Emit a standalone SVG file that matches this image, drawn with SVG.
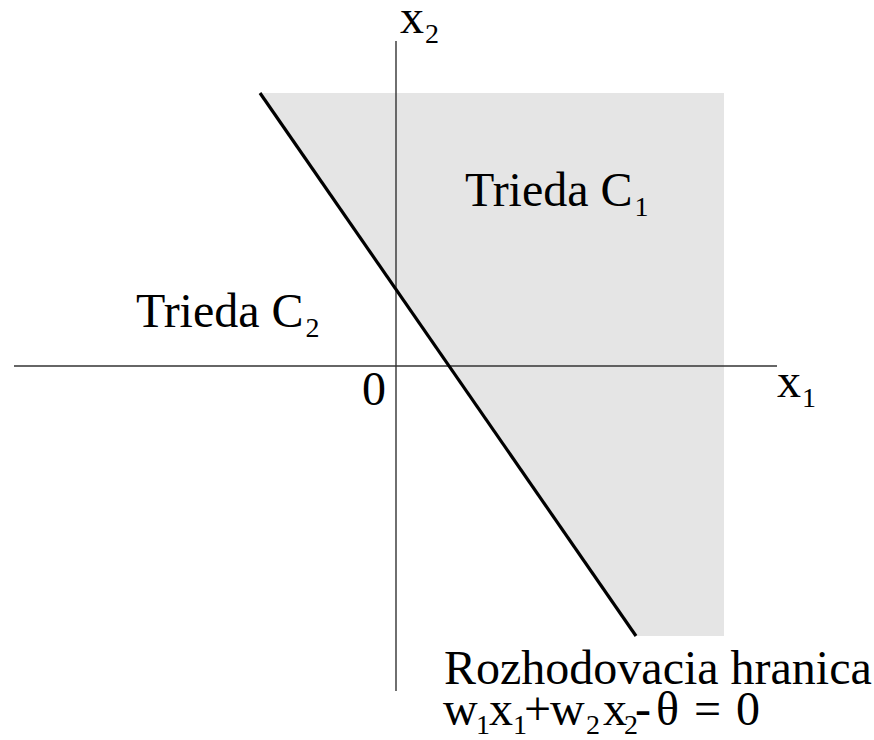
<svg xmlns="http://www.w3.org/2000/svg" width="874" height="740" viewBox="0 0 874 740">
<style>
.t{font-family:"Liberation Serif","Times New Roman",serif;font-size:48px;fill:#000}
.s{font-size:28px}
.ax{stroke:#333;stroke-width:1.4;fill:none}
</style>
<rect width="874" height="740" fill="#fff"/>
<g id="region-c1">
<polygon points="260,93 724,93 724,636 636,636" fill="#e5e5e5"/>
</g>
<g id="connectors">
<line class="ax" x1="14" y1="366" x2="777" y2="366"/>
<line class="ax" x1="396" y1="41" x2="396" y2="691"/>
<line x1="260" y1="93" x2="636" y2="636" stroke="#000" stroke-width="3.2"/>
</g>
<g id="label-x2"><text class="t" x="400" y="33">x<tspan class="s" dx="1" y="43">2</tspan></text></g>
<g id="label-x1"><text class="t" x="777" y="397">x<tspan class="s" dx="1" y="407">1</tspan></text></g>
<g id="label-0"><text class="t" x="362" y="405">0</text></g>
<g id="label-c1"><text class="t" x="465" y="206">Trieda C<tspan class="s" dx="2" y="216">1</tspan></text></g>
<g id="label-c2"><text class="t" x="136" y="327">Trieda C<tspan class="s" dx="2" y="337">2</tspan></text></g>
<g id="label-boundary">
<text class="t" x="444" y="684">Rozhodovacia hranica</text>
<text class="t" x="443" y="725">w<tspan class="s" x="476" y="734">1</tspan><tspan x="489" y="725">x</tspan><tspan class="s" x="513" y="734">1</tspan><tspan x="524" y="725">+</tspan><tspan x="550" y="725">w</tspan><tspan class="s" x="586" y="734">2</tspan><tspan x="603" y="725">x</tspan><tspan class="s" x="624" y="734">2</tspan><tspan x="635" y="725">-</tspan><tspan x="656" y="725">θ</tspan><tspan x="694" y="725">=</tspan><tspan x="736" y="725">0</tspan></text>
</g>
</svg>
